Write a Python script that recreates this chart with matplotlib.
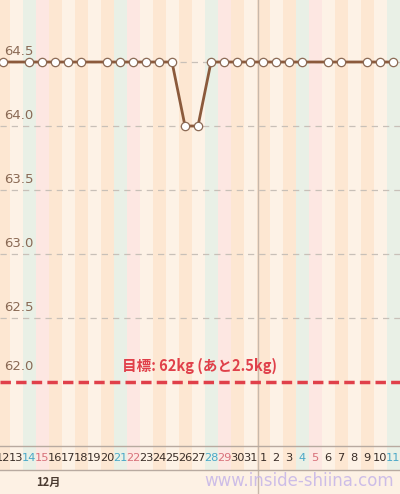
import matplotlib
matplotlib.use("Agg")
import matplotlib.pyplot as plt
import numpy as np

plt.rcParams['font.family'] = ['Noto Sans CJK JP', 'DejaVu Sans']

day_labels = ['12','13','14','15','16','17','18','19','20','21','22','23','24','25','26','27','28','29','30','31',
              '1','2','3','4','5','6','7','8','9','10','11']
weights = [64.5, None, 64.5, 64.5, 64.5, 64.5, 64.5, None, 64.5, 64.5, 64.5, 64.5, 64.5, 64.5, 64.0, 64.0,
           64.5, 64.5, 64.5, 64.5, 64.5, 64.5, 64.5, 64.5, None, 64.5, 64.5, None, 64.5, 64.5, 64.5]
saturdays = ['14','21','28','4','11']
sundays = ['15','22','29','5']
y_ticks = [62.5, 63.0, 63.5, 64.0, 64.5]
goal = 62.0
goal_text = '目標: 62kg (あと2.5kg)'
month_label = '12月'

def ypx(px):
    return 64.5 - (px - 62) * 0.5 / 64

fig = plt.figure(figsize=(4.0, 4.94), dpi=100)
ax = fig.add_axes([0, 0, 1, 1])
ax.set_xlim(-3/13, 397/13)
ax.set_ylim(ypx(494), ypx(0))
ax.axis('off')
fig.patch.set_facecolor('#fdf1e4')

for i, d in enumerate(day_labels):
    if d in saturdays:
        c = '#e9f0e6'
    elif d in sundays:
        c = '#fde7e2'
    else:
        c = '#fde7d2' if i % 2 == 0 else '#fdf2e6'
    ax.add_patch(plt.Rectangle((i-0.5, ypx(470)), 1, ypx(0)-ypx(470), color=c, lw=0, zorder=0))

for t in y_ticks:
    ax.axhline(t, color='#c8c0b8', ls=(0, (5, 4)), lw=0.9, zorder=1)
    ax.text(0.1, t + 0.03, f'{t:.1f}', color='#8a6a55', fontsize=9.5, va='bottom', ha='left', zorder=3,
            family=['DejaVu Sans'])
ax.text(0.1, goal + 0.07, f'{goal:.1f}', color='#8a6a55', fontsize=9.5, va='bottom', ha='left', zorder=3,
        family=['DejaVu Sans'])
ax.axhline(goal, color='#e0404a', ls=(0, (3, 1.5)), lw=2.5, zorder=2)
ax.text(15.1, goal + 0.06, goal_text, color='#e0404a', fontsize=10.5, fontweight='bold',
        ha='center', va='bottom', zorder=3)

ax.axvline(19.6, color='#c8b8aa', lw=1, zorder=1)

xs = [i for i, w in enumerate(weights) if w is not None]
ws = [w for w in weights if w is not None]
ax.plot(xs, ws, color='#8b5a3c', lw=2, zorder=4, marker='o', ms=6,
        mfc='white', mec='#8b6a55', mew=0.9)

ax.axhline(ypx(446), color='#b8aaa0', lw=1, zorder=3)
ax.axhline(ypx(470), color='#b8aaa0', lw=1, zorder=3)
for i, d in enumerate(day_labels):
    c = '#4aa8c8' if d in saturdays else ('#d8707a' if d in sundays else '#3a2e28')
    ax.text(i, ypx(458), d, color=c, fontsize=8.2, ha='center', va='center', zorder=3,
            family=['DejaVu Sans'])

ax.text(3.5, ypx(482), month_label, color='#4a3a30', fontsize=8, fontweight='bold',
        ha='center', va='center')
ax.text(22.8, ypx(481), 'www.inside-shiina.com', color='#c8b8e8', fontsize=12,
        ha='center', va='center', family=['DejaVu Sans'], alpha=0.9)

fig.savefig('out.png', dpi=100)
